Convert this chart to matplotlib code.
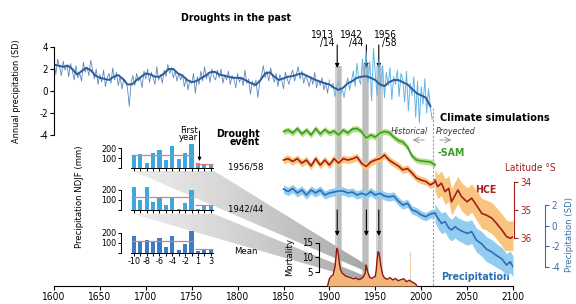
import numpy as np
import matplotlib.pyplot as plt
from matplotlib.patches import Polygon, Rectangle

plt.rcParams['font.family'] = ['DejaVu Sans']
plt.rcParams['font.stretch'] = 'condensed'
plt.rcParams['axes.unicode_minus'] = False

# ---------------- data ----------------
# reconstructed annual precipitation (SD), every 2 years 1600-2012
top_years = np.arange(1600, 2013, 2)
top_annual = [2.6, 1.5, 2.9, 2.2, 1.4, 2.7, 1.9, 2.4, 1.3, 2.5,
              1.8, 1.0, 2.3, 1.2, 1.6, 0.9, 2.6, 1.7, 2.2, 1.4,
              2.8, 1.9, 1.1, 2.0, 0.6, 1.5, 0.8, 1.9, 0.4, 1.2,
              1.6, 0.7, 2.1, 1.0, 1.7, 0.5, 1.3, 0.2, 1.1, 0.9,
              0.3, -1.4, 0.8, 1.4, 0.5, 1.6, 0.9, 1.2, 0.3, 1.8,
              1.1, 2.0, 0.8, 1.7, 1.2, 0.6, 2.2, 1.0, 1.5, 0.7,
              1.9, 1.3, 2.4, 1.6, 2.1, 1.2, 1.8, 0.9, 1.6, 1.0,
              1.5, 0.4, 1.2, 0.1, 1.0, 0.7, 1.6, -0.2, 1.3, 0.6,
              1.8, 0.9, 2.2, 1.1, 1.7, 0.8, 2.0, 1.3, 1.0, 1.9,
              1.2, 2.0, 0.7, 1.5, 1.0, 1.8, 0.6, 1.4, 1.1, 0.3,
              1.6, 0.8, 1.3, 0.5, 1.9, 0.7, 1.1, -0.3, 0.9, 0.4,
              1.0, -0.6, 0.7, 1.4, 2.3, 1.2, 1.8, 0.9, 2.1, 1.3,
              0.8, 1.6, 0.4, 1.5, 1.0, 0.2, 1.7, 1.1, 0.6, 1.4,
              1.9, 0.9, 1.5, 2.2, 1.1, 1.8, 0.7, 1.4, 1.0, 0.4,
              1.3, 0.6, 1.7, 0.3, 1.0, 0.5, 1.2, 0.1, 0.8, -0.2,
              1.0, 0.3, 0.7, -0.5, 0.4, 0.9, -0.3, 0.2, -0.6, 0.5,
              1.2, 0.1, 0.9, 1.8, 0.4, 2.5, 1.1, 0.6, 2.9, 1.4,
              3.6, 0.8, 2.7, -0.9, 3.9, 1.5, -0.4, 2.8, 0.2, 2.3,
              -0.6, 1.7, 0.5, 2.1, -0.8, 1.3, 0.6, 1.9, -0.5, 1.6,
              1.0, -1.0, 1.8, -1.8, 0.7, -0.4, 1.3, -2.4, 0.9, -2.9,
              0.4, -1.2, 1.1, -2.0, 0.2, -1.5, -2.6]
smooth_years = np.arange(1600, 2011, 5)
smooth_vals = [2.4, 2.3, 2.2, 2.3, 2.0, 1.5, 1.8, 2.1, 1.9, 1.4,
               1.2, 1.1, 1.0, 1.3, 1.45, 1.1, 0.6, 0.6, 1.0, 1.3,
               1.6, 1.5, 1.3, 1.3, 1.6, 2.0, 2.0, 1.6, 1.4, 1.0,
               0.8, 0.9, 1.15, 1.4, 1.7, 1.75, 1.5, 1.4, 1.3, 1.2,
               1.2, 1.15, 0.9, 0.7, 0.55, 1.0, 1.6, 1.7, 1.3, 1.0,
               1.15, 1.3, 1.35, 1.5, 1.6, 1.4, 1.2, 1.0, 0.85, 0.7,
               0.6, 0.3, 0.1, 0.3, 0.7, 0.9, 1.2, 1.3, 1.35, 1.2,
               1.0, 0.6, 0.45, 0.8, 1.0, 1.0, 0.8, 0.6, 0.2, -0.2,
               -0.4, -0.6, -1.4]

# drought events
drought_spans = [(1906.5, 1914), (1935.5, 1943.5), (1951, 1958)]
drought_arrows = [1908.5, 1940.3, 1953.8]
drought_names = ['1913\n/14', '1942\n/44', '1956\n/58']

# climate simulations
hist_years = np.arange(1850, 2016, 5)
proj_years = [2015, 2018, 2022, 2026, 2030, 2033, 2037, 2040, 2044, 2050,
              2055, 2060, 2066, 2071, 2077, 2082, 2088, 2093, 2097, 2100]
sam_hist = [0.05, 0.2, -0.1, 0.35, -0.2, 0.2, -0.3, 0.35, -0.2, 0.25,
            -0.1, 0.1, -0.3, 0.2, -0.1, 0.3, 0.35, 0.05, -0.6, -0.3,
            -0.5, -0.1, 0.05, -0.05, -0.5, -0.85, -1.0, -1.5, -2.4, -2.8,
            -2.9, -2.95, -3.0, -3.3]
sam_spread = 0.3
hce_hist = [33.24, 33.19, 33.29, 33.19, 33.35, 33.24, 33.45, 33.19, 33.42, 33.24,
            33.42, 33.19, 33.35, 33.19, 33.24, 33.20, 33.13, 33.35, 33.47, 33.31,
            33.24, 33.19, 33.06, 33.24, 33.35, 33.45, 33.59, 33.54, 33.70, 33.88,
            33.95, 34.00, 34.12, 34.02]
hce_proj = [33.95, 34.18, 34.06, 34.36, 34.24, 34.72, 34.48, 34.30, 34.54, 34.72,
            34.59, 34.83, 35.13, 35.19, 35.30, 35.48, 35.72, 35.95, 36.01, 35.96]
hce_spread_hist = 0.13
hce_spread_proj = [0.40, 0.42, 0.44, 0.45, 0.46, 0.47, 0.48, 0.48, 0.50, 0.50,
                   0.50, 0.52, 0.53, 0.53, 0.55, 0.55, 0.57, 0.58, 0.60, 0.60]
pr_hist = [3.55, 3.31, 3.60, 3.17, 3.46, 2.97, 3.46, 3.17, 3.46, 2.97,
           3.17, 3.26, 3.36, 3.36, 3.17, 3.26, 2.97, 3.14, 2.97, 3.29,
           2.97, 3.14, 2.88, 2.78, 2.88, 2.39, 2.00, 2.17, 1.52, 1.36,
           1.04, 0.87, 1.13, 1.23]
pr_proj = [1.20, 0.75, 0.23, 0.39, -0.22, -0.41, -0.10, -0.32, -0.51, -0.74,
           -0.58, -1.38, -1.77, -2.26, -2.55, -2.88, -3.22, -3.81, -3.49, -3.97]
pr_spread_hist = 0.4
pr_spread_proj = [0.9, 0.95, 1.0, 1.0, 1.05, 1.05, 1.1, 1.1, 1.1, 1.15,
                  1.15, 1.15, 1.2, 1.2, 1.2, 1.15, 1.1, 1.1, 1.05, 1.0]
split_year = 2013

# tree mortality
mort_years = [1898, 1900, 1902, 1904, 1906, 1907, 1908, 1909, 1910, 1911,
              1912, 1914, 1916, 1918, 1920, 1923, 1926, 1929, 1932, 1935,
              1937, 1939, 1940, 1941, 1942, 1944, 1946, 1948, 1950, 1951,
              1952, 1953, 1954, 1955, 1956, 1958, 1960, 1963, 1966, 1969,
              1972, 1975, 1978, 1981, 1984, 1987, 1990, 1993, 1995]
mort_vals = [0, 2.5, 3.4, 3.8, 6.5, 9.5, 12.9, 12.2, 10.5, 7.5,
             5.8, 4.4, 3.9, 3.4, 3.2, 2.9, 2.5, 2.7, 2.2, 2.6,
             3.2, 4.5, 7.2, 6.0, 4.6, 3.0, 2.6, 3.0, 3.3, 5.5,
             9.0, 11.8, 11.5, 9.5, 7.0, 3.9, 2.8, 2.3, 2.9, 2.1,
             2.6, 1.8, 2.2, 2.5, 1.5, 2.0, 1.4, 0.9, 0.3]

# NDJF precipitation around drought events (mm)
lag_labels = ['-10', '-9', '-8', '-7', '-6', '-5', '-4', '-3', '-2', '-1', '1', '2', '3']
bars_1956 = [123, 137, 47, 147, 180, 80, 220, 87, 147, 237, 47, 40, 37]
bars_1942 = [223, 100, 223, 73, 123, 47, 113, 3, 67, 200, 7, 40, 40]
bars_mean = [163, 120, 127, 110, 143, 60, 163, 30, 87, 220, 20, 37, 27]
means_1956 = (130, 40)
means_1942 = (123, 50)
means_mean = (120, 40)

# ---------------- figure ----------------
W, H = 576, 304
fig = plt.figure(figsize=(W / 100, H / 100), dpi=100)
XL, XR = 54, 513

C_TOP = '#2c5b97'
C_GREEN, C_GREEN_B = '#3d9b2b', '#b2df84'
C_RED, C_ORANGE = '#a31f1a', '#f9c47e'
C_BLUE, C_BLUE_B = '#2e6cb4', '#92cdf0'
C_BAR, C_BAR2 = '#3ea8de', '#3b7cc2'
C_AX = '#3b6ea5'


def px_axes(x0, x1, y0, y1, z=1):
    ax = fig.add_axes([x0 / W, 1 - y1 / H, (x1 - x0) / W, (y1 - y0) / H], zorder=z)
    ax.patch.set_alpha(0)
    for s in ax.spines.values():
        s.set_visible(False)
    ax.set_xticks([])
    ax.set_yticks([])
    return ax


# main time axis (y in pixel rows)
ax_main = px_axes(XL, XR, 0, 286, z=0)
ax_main.set_xlim(1600, 2100)
ax_main.set_ylim(286, 0)
ax_main.spines['bottom'].set_visible(True)
ax_main.spines['bottom'].set_linewidth(0.8)
ax_main.set_xticks(range(1600, 2101, 50))
ax_main.tick_params(axis='x', length=3, width=0.8, labelsize=7.3, pad=1.5)

for a, b in drought_spans:
    ax_main.add_patch(Rectangle((a, 66), b - a, 218, color='#d2d2d2', lw=0))
    m = (a + b) / 2
    ax_main.add_patch(Rectangle((m - (b - a) * 0.3, 66), (b - a) * 0.6, 218,
                                color='#bdbdbd', lw=0))
for yr in drought_arrows:
    ax_main.annotate('', xy=(yr, 68), xytext=(yr, 45),
                     arrowprops=dict(arrowstyle='-|>', color='k', lw=0.8,
                                     mutation_scale=6, shrinkA=0, shrinkB=0))
    ax_main.annotate('', xy=(yr, 236), xytext=(yr, 210),
                     arrowprops=dict(arrowstyle='-|>', color='k', lw=0.8,
                                     mutation_scale=6, shrinkA=0, shrinkB=0))
ax_main.plot([split_year, split_year], [108, 286], color='#9a9a9a', lw=0.8,
             ls=(0, (2, 1.5)))
ax_main.plot([1988, 1988], [252, 286], color='#e5a868', lw=0.8, ls=(0, (1, 1)))

# overlay in pixel coordinates for wedges and text
ax_ov = px_axes(0, W, 0, H, z=0.5)
grad = np.linspace(0.14, 0.45, 256).reshape(1, -1)
for pts in [[(133, 171), (214, 171), (365, 264), (365, 271)],
            [(133, 214), (214, 214), (365, 276), (365, 281)]]:
    poly = Polygon(pts, closed=True, fc='none', ec='none')
    ax_ov.add_patch(poly)
    im = ax_ov.imshow(grad, cmap='Greys', vmin=0, vmax=1, aspect='auto',
                      extent=[133, 365, 290, 160], interpolation='bilinear')
    im.set_clip_path(poly)
ax_ov.set_xlim(0, W)
ax_ov.set_ylim(H, 0)

# top panel: precipitation reconstruction
ax_top = px_axes(XL, XR, 40, 145, z=2)
ax_top.set_xlim(1600, 2100)
ax_top.set_ylim((91 - 145) / 11, (91 - 40) / 11)
ax_top.spines['left'].set_visible(True)
ax_top.spines['left'].set_bounds(-4, 4)
ax_top.spines['left'].set_linewidth(0.8)
ax_top.set_yticks([-4, -2, 0, 2, 4])
ax_top.tick_params(axis='y', length=3, width=0.8, labelsize=7, pad=1.5)
ty = np.array(top_years)
tv = np.array(top_annual)
old = ty <= 1900
ax_top.plot(ty[old], tv[old], color='#5d88bf', lw=0.6)
ax_top.plot(ty[~old], tv[~old], color='#63b5e8', lw=0.7)
ax_top.plot(smooth_years, smooth_vals, color=C_TOP, lw=1.4)

# -SAM
ax_sam = px_axes(XL, XR, 100, 180, z=2)
ax_sam.set_xlim(1600, 2100)
ax_sam.set_ylim(-4.8, 3.2)
sh = np.array(sam_hist)
ax_sam.fill_between(hist_years, sh - sam_spread, sh + sam_spread, color=C_GREEN_B, lw=0)
ax_sam.plot(hist_years, sh, color=C_GREEN, lw=1.2)

# HCE latitude
ax_hce = px_axes(XL, XR, 150, 250, z=2)
ax_hce.set_xlim(1600, 2100)
ax_hce.set_ylim(34 + (250 - 181.5) / 28.25, 34 + (150 - 181.5) / 28.25)
hh, hp = np.array(hce_hist), np.array(hce_proj)
ax_hce.fill_between(hist_years, hh - hce_spread_hist, hh + hce_spread_hist, color=C_ORANGE, lw=0)
ax_hce.fill_between(proj_years, hp - np.array(hce_spread_proj), hp + np.array(hce_spread_proj),
                    color=C_ORANGE, lw=0)
ax_hce.plot(hist_years, hh, color=C_RED, lw=1.2)
ax_hce.plot(proj_years, hp, color=C_RED, lw=1.2)
ax_hce.spines['right'].set_visible(True)
ax_hce.spines['right'].set_position(('data', 2101))
ax_hce.spines['right'].set_bounds(34, 36)
ax_hce.spines['right'].set_color(C_RED)
ax_hce.yaxis.tick_right()
ax_hce.set_yticks([34, 35, 36])
ax_hce.tick_params(axis='y', colors=C_RED, length=3, width=0.8, labelsize=7, pad=1.5)

# simulated precipitation
ax_pr = px_axes(XL, XR, 180, 290, z=2.1)
ax_pr.set_xlim(1600, 2100)
ax_pr.set_ylim((225.7 - 290) / 10.33, (225.7 - 180) / 10.33)
ph, pp = np.array(pr_hist), np.array(pr_proj)
ax_pr.fill_between(hist_years, ph - pr_spread_hist, ph + pr_spread_hist, color=C_BLUE_B, lw=0)
ax_pr.fill_between(proj_years, pp - np.array(pr_spread_proj), pp + np.array(pr_spread_proj),
                   color=C_BLUE_B, lw=0)
ax_pr.plot(hist_years, ph, color=C_BLUE, lw=1.2)
ax_pr.plot(proj_years, pp, color=C_BLUE, lw=1.2)
ax_pr.spines['right'].set_visible(True)
ax_pr.spines['right'].set_position(('data', 2135))
ax_pr.spines['right'].set_bounds(-4, 2)
ax_pr.spines['right'].set_color(C_AX)
ax_pr.yaxis.tick_right()
ax_pr.set_yticks([-4, -2, 0, 2])
ax_pr.tick_params(axis='y', colors=C_AX, length=3, width=0.8, labelsize=7, pad=1.5)

# mortality
ax_mo = px_axes(XL, XR, 230, 286, z=2.2)
ax_mo.set_xlim(1600, 2100)
ax_mo.set_ylim(0, 56 / 2.9)
ax_mo.fill_between(mort_years, 0, mort_vals, color='#f3b57a', lw=0)
ax_mo.plot(mort_years, mort_vals, color='#8e1712', lw=1.0)
ax_mo.spines['left'].set_visible(True)
ax_mo.spines['left'].set_position(('data', 1889))
ax_mo.spines['left'].set_bounds(5, 15)
ax_mo.spines['left'].set_linewidth(0.8)
ax_mo.set_yticks([5, 10, 15])
ax_mo.tick_params(axis='y', length=3, width=0.8, labelsize=7, pad=1.5)


# NDJF precipitation bar insets
def bar_panel(y0, vals, means, color, labels):
    ax = px_axes(121, 214, y0 - 25, y0, z=3)
    ax.set_xlim(-2.0, 12.5)
    ax.set_ylim(0, 250)
    x = np.arange(len(vals))
    ax.bar(x, vals, width=0.65, color=color, lw=0)
    ax.hlines(means[0], -0.4, 9.4, color='#e57a7a', lw=0.9)
    ax.hlines(means[1], 9.6, 12.4, color='#e57a7a', lw=0.9)
    ax.spines['left'].set_visible(True)
    ax.spines['left'].set_bounds(0, 200)
    ax.spines['bottom'].set_visible(True)
    ax.spines['bottom'].set_bounds(-0.4, 12.4)
    for s in ('left', 'bottom'):
        ax.spines[s].set_linewidth(0.7)
    ax.set_yticks([0, 100, 200])
    ax.set_yticklabels(['', '100', '200'])
    ax.set_xticks(x)
    if labels:
        ax.set_xticklabels([l if i % 2 == 0 else '' for i, l in enumerate(lag_labels)])
    else:
        ax.set_xticklabels([])
    ax.tick_params(length=2.5, width=0.7, labelsize=6.5, pad=1)
    return ax


bar_panel(168, bars_1956, means_1956, C_BAR, False)
bar_panel(209.5, bars_1942, means_1942, C_BAR, False)
bar_panel(252.5, bars_mean, means_mean, C_BAR2, True)

# ---------------- text ----------------
ax_ov.text(236, 18, 'Droughts in the past', ha='center', va='center',
           fontsize=7.6, fontweight='bold')
ax_ov.text(17, 91, 'Annual precipitation (SD)', rotation=90, ha='center',
           va='center', fontsize=6.6)
for name, xr in zip(drought_names, [334, 363, 397]):
    ax_ov.text(xr, 39, name, ha='right', va='center', fontsize=7.2,
               linespacing=0.85, multialignment='right')
ax_ov.text(440, 118, 'Climate simulations', ha='left', va='center',
           fontsize=7.8, fontweight='bold')
ax_ov.text(428, 132, 'Historical', ha='right', va='center', fontsize=6.3,
           style='italic', color='#333333')
ax_ov.text(436, 132, 'Proyected', ha='left', va='center', fontsize=6.3,
           style='italic', color='#333333')
ax_ov.annotate('', xy=(410, 140), xytext=(427, 140),
               arrowprops=dict(arrowstyle='->', color='#888888', lw=0.6))
ax_ov.annotate('', xy=(454, 140), xytext=(437, 140),
               arrowprops=dict(arrowstyle='->', color='#888888', lw=0.6))
ax_ov.text(437, 153, '-SAM', ha='left', va='center', fontsize=7.6,
           fontweight='bold', color=C_GREEN)
ax_ov.text(475, 190, 'HCE', ha='left', va='center', fontsize=7.6,
           fontweight='bold', color=C_RED)
ax_ov.text(530, 168, 'Latitude °S', ha='center', va='center', fontsize=7.2,
           color=C_RED)
ax_ov.text(441, 277, 'Precipitation', ha='left', va='center', fontsize=7.6,
           fontweight='bold', color=C_BLUE)
ax_ov.text(569, 235, 'Precipitation (SD)', rotation=90, ha='center',
           va='center', fontsize=6.8, color=C_AX)
ax_ov.text(290, 257, 'Mortality', rotation=90, ha='center', va='center',
           fontsize=6.8)
ax_ov.text(198, 134, 'First\nyear', ha='right', va='center', fontsize=6.8,
           linespacing=0.85, multialignment='right')
ax_ov.annotate('', xy=(199.5, 161), xytext=(199.5, 131),
               arrowprops=dict(arrowstyle='-|>', color='k', lw=0.7,
                               mutation_scale=5, shrinkA=0, shrinkB=0))
ax_ov.text(260, 138, 'Drought\nevent', ha='right', va='center', fontsize=7.6,
           fontweight='bold', linespacing=0.85, multialignment='right')
ax_ov.text(228, 167, '1956/58', ha='left', va='center', fontsize=6.8)
ax_ov.text(228, 209, '1942/44', ha='left', va='center', fontsize=6.8)
ax_ov.text(234, 252, 'Mean', ha='left', va='center', fontsize=6.8)
ax_ov.text(80, 197, 'Precipitation NDJF (mm)', rotation=90, ha='center',
           va='center', fontsize=6.8)

fig.savefig('out.png', dpi=100)
